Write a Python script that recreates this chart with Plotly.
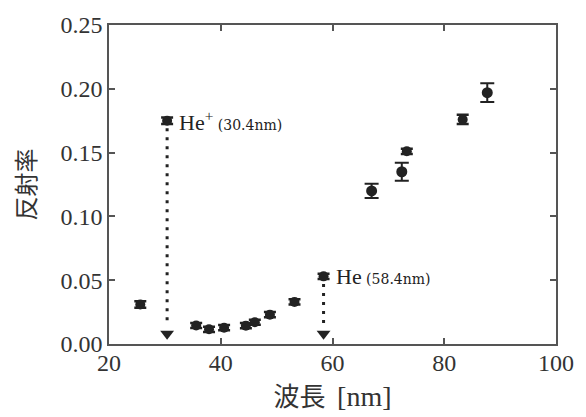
import plotly.graph_objects as go

# Data
wavelength = [25.6, 30.4, 35.6, 37.9, 40.6, 44.5, 46.1, 48.8, 53.2, 58.4, 67.0, 72.4, 73.3, 83.3, 87.7]
reflectance = [0.031, 0.175, 0.0145, 0.0115, 0.0128, 0.0144, 0.017, 0.023, 0.033, 0.053, 0.120, 0.135, 0.151, 0.176, 0.197]
error = [0.0025, 0.0025, 0.002, 0.002, 0.002, 0.002, 0.002, 0.002, 0.002, 0.002, 0.0055, 0.007, 0.002, 0.0036, 0.0073]

line_wavelengths = [30.4, 58.4]
line_reflectance = [0.175, 0.053]
line_labels = ["He<sup>+</sup>", "He"]
line_names = ["(30.4nm)", "(58.4nm)"]
arrow_floor = 0.008

INK = "#222222"
AX = "#555555"
TXT = "#333333"

small = [i for i, e in enumerate(error) if e < 0.005]
large = [i for i, e in enumerate(error) if e >= 0.005]

fig = go.Figure()

# dotted drop lines + down triangles
for lx, ly in zip(line_wavelengths, line_reflectance):
    fig.add_trace(go.Scatter(
        x=[lx, lx], y=[ly - 0.006, arrow_floor + 0.006], mode="lines",
        line=dict(color=INK, width=3, dash="3px,6px"), showlegend=False, hoverinfo="skip"))
    fig.add_trace(go.Scatter(
        x=[lx], y=[arrow_floor], mode="markers",
        marker=dict(symbol="triangle-down", size=12, color=INK), showlegend=False))

fig.add_trace(go.Scatter(
    x=[wavelength[i] for i in small], y=[reflectance[i] for i in small], mode="markers",
    marker=dict(symbol="circle", size=10, color=INK),
    error_y=dict(type="data", array=[error[i] for i in small], color=INK, thickness=2.5, width=6),
    showlegend=False))
fig.add_trace(go.Scatter(
    x=[wavelength[i] for i in large], y=[reflectance[i] for i in large], mode="markers",
    marker=dict(symbol="circle", size=11, color=INK),
    error_y=dict(type="data", array=[error[i] for i in large], color=INK, thickness=2, width=7),
    showlegend=False))

for lx, ly, lab, nm in zip(line_wavelengths, line_reflectance, line_labels, line_names):
    fig.add_annotation(
        x=lx, y=ly, xanchor="left", yanchor="middle", xshift=10, showarrow=False,
        text=f"{lab}<span style='font-family:DejaVu Serif;font-size:14px'> {nm}</span>",
        font=dict(family="Liberation Serif", size=22, color=INK))

axis_common = dict(
    showline=True, linecolor=AX, linewidth=1.5, mirror="ticks",
    ticks="inside", ticklen=6, tickwidth=1.5, tickcolor=AX,
    showgrid=False, zeroline=False,
    tickfont=dict(family="Liberation Serif", size=24, color=TXT),
)

fig.update_xaxes(range=[20, 100], dtick=20, ticklabelstandoff=-4, **axis_common,
                 title=dict(text="波長&nbsp;&nbsp;<span style='font-family:Liberation Serif;font-size:28px'>[nm]</span>",
                            standoff=6,
                            font=dict(family="Noto Sans CJK JP", size=26, color=TXT)))
fig.update_yaxes(range=[0, 0.25], dtick=0.05, tickformat=".2f", **axis_common,
                 title=dict(text="反射率", standoff=18,
                            font=dict(family="Noto Sans CJK JP", size=24, color=TXT)))

fig.update_layout(
    width=586, height=417,
    margin=dict(l=109, r=30, t=20, b=73),
    paper_bgcolor="white", plot_bgcolor="white",
)

fig.write_html("out.html", config={"displayModeBar": False},
               post_script="document.body.style.margin='0';")
